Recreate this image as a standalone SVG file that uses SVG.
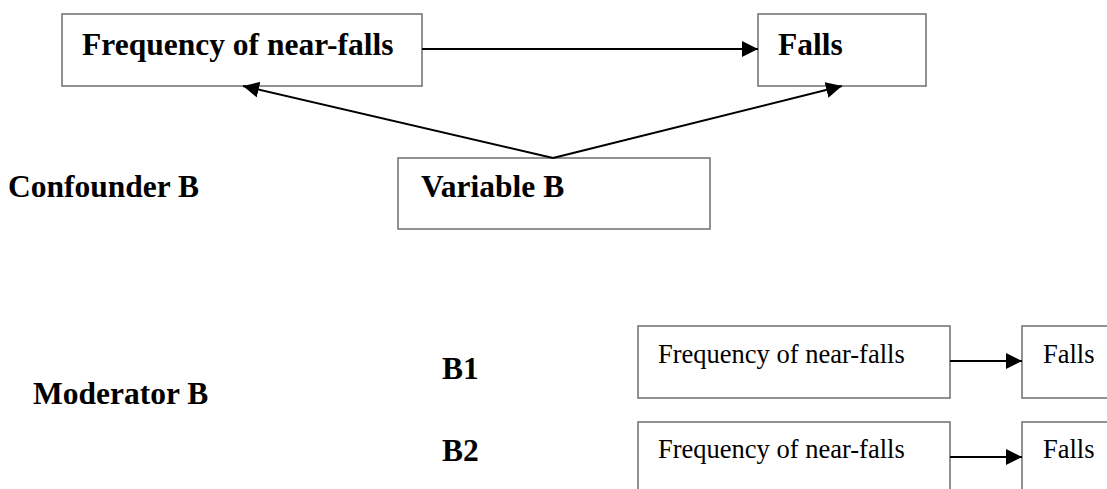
<svg xmlns="http://www.w3.org/2000/svg" width="1107" height="489" viewBox="0 0 1107 489">
<style>
.box{fill:#fff;stroke:#6e6e6e;stroke-width:1.5}
.b{font-family:"Liberation Serif","Times New Roman",serif;font-weight:bold;font-size:31.5px;fill:#000}
.r{font-family:"Liberation Serif","Times New Roman",serif;font-size:26.5px;fill:#000}
.c{stroke:#000;stroke-width:2;fill:none}
</style>
<defs>
<marker id="ah" markerUnits="userSpaceOnUse" markerWidth="17" markerHeight="16" refX="16" refY="8" orient="auto">
<path d="M0,0 L16,8 L0,16 z" fill="#000"/>
</marker>
</defs>
<rect width="1107" height="489" fill="#fff"/>
<g id="n-freq"><rect class="box" x="62" y="14" width="360" height="72"/><text class="b" x="82" y="55">Frequency of near-falls</text></g>
<g id="n-falls"><rect class="box" x="758" y="14" width="168" height="72"/><text class="b" x="778" y="55">Falls</text></g>
<g id="n-var"><rect class="box" x="398" y="158" width="312" height="71"/><text class="b" x="421" y="197">Variable B</text></g>
<g id="l-conf"><text class="b" x="8" y="197">Confounder B</text></g>
<g id="l-mod"><text class="b" x="33" y="404">Moderator B</text></g>
<g id="l-b1"><text class="b" x="442" y="379">B1</text></g>
<g id="l-b2"><text class="b" x="442" y="461">B2</text></g>
<g id="n-freq1"><rect class="box" x="638" y="326" width="312" height="72"/><text class="r" x="658" y="363">Frequency of near-falls</text></g>
<g id="n-falls1"><rect class="box" x="1022" y="326" width="100" height="72"/><text class="r" x="1043" y="363">Falls</text></g>
<g id="n-freq2"><rect class="box" x="638" y="422" width="312" height="80"/><text class="r" x="658" y="458">Frequency of near-falls</text></g>
<g id="n-falls2"><rect class="box" x="1022" y="422" width="100" height="80"/><text class="r" x="1043" y="458">Falls</text></g>
<g id="connectors">
<line class="c" x1="422" y1="49" x2="758" y2="49" marker-end="url(#ah)"/>
<line class="c" x1="553" y1="158" x2="243" y2="86" marker-end="url(#ah)"/>
<line class="c" x1="553" y1="158" x2="842" y2="86" marker-end="url(#ah)"/>
<line class="c" x1="950" y1="361" x2="1022" y2="361" marker-end="url(#ah)"/>
<line class="c" x1="950" y1="457" x2="1022" y2="457" marker-end="url(#ah)"/>
</g>
</svg>
